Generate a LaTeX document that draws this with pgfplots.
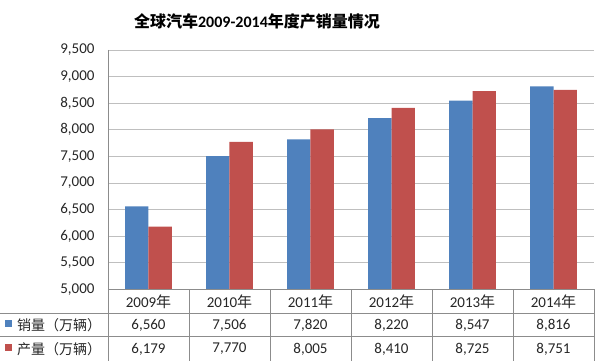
\documentclass[border=0pt]{standalone}
\usepackage{pgfplots}
\pgfplotsset{compat=1.18}
\usepackage{fontspec}
\setmainfont{Carlito}
\newfontfamily\cjk{Noto Sans CJK SC}
\definecolor{sblue}{HTML}{4F81BD}
\definecolor{sred}{HTML}{C0504D}
\definecolor{gridc}{HTML}{BFBFBF}
\definecolor{tline}{HTML}{8C8C8C}
\begin{document}
\begin{tikzpicture}
\useasboundingbox (-108pt,-71.7pt) rectangle (487pt,289.3pt);
\begin{axis}[
  scale only axis, width=486pt, height=239.3pt,
  xmin=-0.5, xmax=5.5, ymin=5000, ymax=9500,
  ytick={5000,5500,...,9500},
  xtick={0,...,5},
  xticklabels={2009{\cjk 年},2010{\cjk 年},2011{\cjk 年},2012{\cjk 年},2013{\cjk 年},2014{\cjk 年}},
  ymajorgrids, major grid style={gridc, line width=0.8pt},
  axis line style={draw=none},
  major tick length=0pt,
  tick label style={font=\fontsize{15}{18}\selectfont, text=black!85},
  yticklabel style={anchor=east, xshift=-10pt},
  xticklabel style={anchor=center, yshift=-12pt},
  /pgf/number format/1000 sep={,},
  /pgf/number format/assume math mode=true,
]
\addplot[ybar, bar width=23.3pt, bar shift=-11.65pt, fill=sblue, draw=none]
  coordinates {(0,6560) (1,7506) (2,7820) (3,8220) (4,8547) (5,8816)};
\addplot[ybar, bar width=23.3pt, bar shift=11.65pt, fill=sred, draw=none]
  coordinates {(0,6179) (1,7770) (2,8005) (3,8410) (4,8725) (5,8751)};
\end{axis}
\begin{axis}[
  scale only axis, width=486pt, height=239.3pt,
  xmin=-0.5, xmax=5.5, ymin=5000, ymax=9500,
  hide axis, clip=false,
  point meta=explicit, nodes near coords,
  /pgf/number format/1000 sep={,},
  /pgf/number format/assume math mode=true,
  every node near coord/.append style={font=\fontsize{15}{18}\selectfont, text=black!85, anchor=center},
]
\addplot[draw=none, mark=none, every node near coord/.append style={yshift=-35.7pt}]
  coordinates {(0,5000) [6560] (1,5000) [7506] (2,5000) [7820] (3,5000) [8220] (4,5000) [8547] (5,5000) [8816]};
\addplot[draw=none, mark=none, every node near coord/.append style={yshift=-59.7pt}]
  coordinates {(0,5000) [6179] (1,5000) [7770] (2,5000) [8005] (3,5000) [8410] (4,5000) [8725] (5,5000) [8751]};
\end{axis}
% axis / table lines
\draw[tline, line width=0.8pt] (0pt,239.3pt) -- (0pt,-71.7pt);
\draw[tline, line width=0.8pt] (0pt,0pt) -- (487pt,0pt);
\draw[tline, line width=0.8pt] (-108pt,-24pt) -- (487pt,-24pt);
\draw[tline, line width=0.8pt] (-108pt,-47.4pt) -- (487pt,-47.4pt);
\foreach \k in {1,...,5} {\draw[tline, line width=0.8pt] (\k*81pt,0pt) -- (\k*81pt,-71.7pt);}
\draw[tline, line width=0.8pt] (486pt,0pt) -- (486pt,-71.7pt);
% legend column
\fill[sblue] (-103pt,-30.7pt) rectangle (-95.7pt,-38pt);
\fill[sred] (-103pt,-54.7pt) rectangle (-95.7pt,-62pt);
\node[anchor=west, inner sep=0pt, text=black!85, font=\fontsize{14}{17}\selectfont\cjk] at (-91pt,-35.7pt) {销量（万辆）};
\node[anchor=west, inner sep=0pt, text=black!85, font=\fontsize{14}{17}\selectfont\cjk] at (-91pt,-59.7pt) {产量（万辆）};
% title
\node[anchor=center, inner sep=0pt, font=\fontsize{16}{19}\selectfont\bfseries] at (149pt,268.3pt)
  {{\cjk 全球汽车}2009-2014{\cjk 年度产销量情况}};
\end{tikzpicture}
\end{document}
